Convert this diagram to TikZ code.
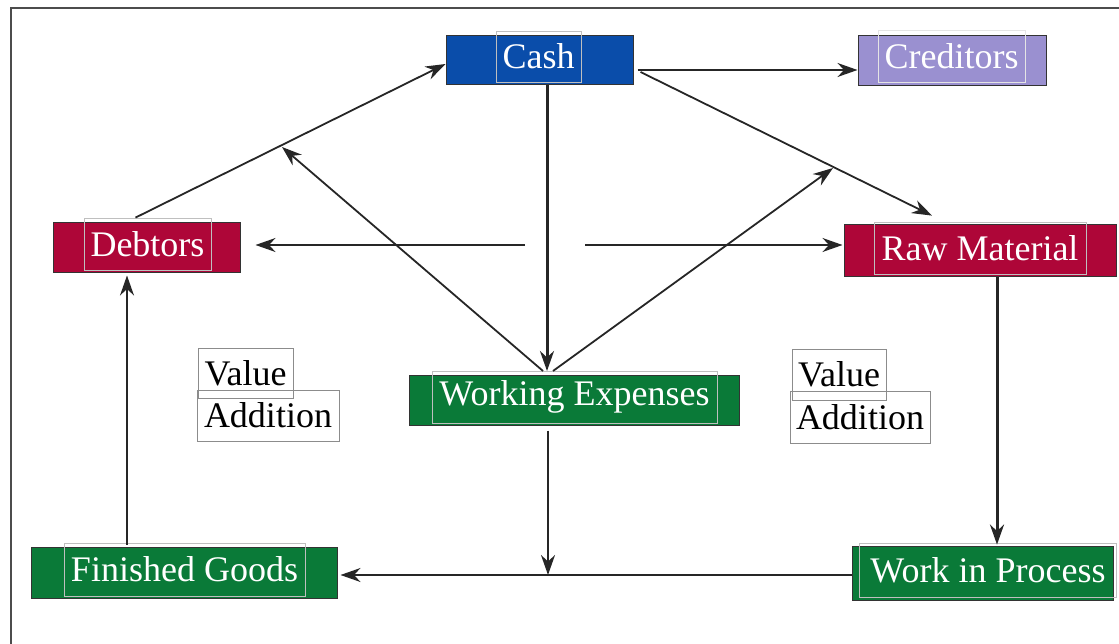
\documentclass[tikz,border=0pt]{standalone}
\usepackage{fontspec}
\setmainfont{Liberation Serif}
\usetikzlibrary{arrows.meta,calc}
\definecolor{cashblue}{HTML}{0A4DAA}
\definecolor{credlav}{HTML}{9A90D0}
\definecolor{crimson}{HTML}{AE0638}
\definecolor{dgreen}{HTML}{0A7A38}
\begin{document}
\begin{tikzpicture}[x=1pt,y=-1pt,
  box/.style={draw=black!80,line width=1pt,inner sep=0pt,minimum width=#1},
  lab/.style={draw=black!25,line width=0.8pt,inner sep=0pt,minimum height=52pt,text=white,font=\fontsize{36}{40}\selectfont,minimum width=#1},
  vlab/.style={draw=black!45,line width=0.8pt,inner sep=0pt,minimum height=50pt,text=black,font=\fontsize{36}{40}\selectfont,minimum width=#1},
  arr/.style={draw=black!85,line width=1.8pt,-{Stealth[length=20pt,width=14pt]}},
  tarr/.style={draw=black!85,line width=3pt,-{Stealth[length=20pt,width=14pt]}}]
\useasboundingbox (0,0) rectangle (1119,644);
\draw[black!70,line width=2pt] (11,644) -- (11,8) -- (1119,8);
% boxes
\node[box=187pt,fill=cashblue,minimum height=49pt] (cash) at (539.5,60.5) {};
\node[lab=85pt,minimum height=51pt] (cashlab) at (538.5,56.5) {Cash};
\node[box=188pt,fill=credlav,minimum height=50pt] (cred) at (952,61) {};
\node[lab=147pt,draw=white!90!black] (credlab) at (951.5,56) {Creditors};
\node[box=187pt,fill=crimson,minimum height=50pt] (deb) at (146.5,248) {};
\node[lab=127pt] (deblab) at (147.5,244) {Debtors};
\node[box=272pt,fill=crimson,minimum height=52pt] (rm) at (980,251) {};
\node[lab=212pt] (rmlab) at (980,248) {Raw Material};
\node[box=330pt,fill=dgreen,minimum height=50pt] (we) at (574,400) {};
\node[lab=285pt] (welab) at (574.5,397) {Working Expenses};
\node[box=306pt,fill=dgreen,minimum height=51pt] (fg) at (184,572.5) {};
\node[lab=241pt,minimum height=53pt] (fglab) at (184.5,569.5) {Finished Goods};
\node[box=261pt,fill=dgreen,minimum height=54pt] (wip) at (982.5,573) {};
\node[lab=257pt,minimum height=54pt] (wiplab) at (988,570) {Work in Process};
\node[vlab=95pt] (val1) at (245.5,373) {Value};
\node[vlab=142pt,minimum height=51pt] (add1) at (268,415.5) {Addition};
\node[vlab=94pt,minimum height=51pt] (val2) at (839,374.5) {Value};
\node[vlab=140pt,minimum height=52pt] (add2) at (860,417) {Addition};
% free coordinates
\coordinate (wetop) at (547,371);
\coordinate (ul) at (282,147);
\coordinate (ur) at (833,168);
\coordinate (hl) at (525,245);
\coordinate (hr) at (585,245);
\coordinate (mid) at (548,575);
% connectors
\draw[arr] ([xshift=-12pt]deblab.north) -- ([yshift=-3.5pt]cash.west);
\draw[arr] ([xshift=4pt,yshift=-9.5pt]cash.east) -- ([yshift=-9pt]cred.west);
\draw[arr] ([xshift=7pt,yshift=-11.5pt]cash.east) -- ([xshift=-48pt,yshift=6pt]rmlab.north);
\draw[tarr] ([xshift=7.5pt]cash.south) -- (wetop);
\draw[arr] ([xshift=-4pt]wetop) -- (ul);
\draw[arr] ([xshift=6pt]wetop) -- (ur);
\draw[arr] (hl) -- ([xshift=15pt,yshift=3pt]deb.east);
\draw[arr] (hr) -- ([xshift=-1pt,yshift=6pt]rm.west);
\draw[tarr] ([xshift=17pt]rm.south) -- ([xshift=9pt,yshift=-2pt]wiplab.north);
\draw[arr] ([xshift=-26pt,yshift=-5pt]we.south) -- (mid);
\draw[arr] ([yshift=-2pt]wip.west) -- ([xshift=3pt,yshift=-2.5pt]fg.east);
\draw[arr] ([xshift=-57.5pt,yshift=-2pt]fglab.north) -- ([xshift=-19.5pt,yshift=-2pt]deb.south);
\end{tikzpicture}
\end{document}
